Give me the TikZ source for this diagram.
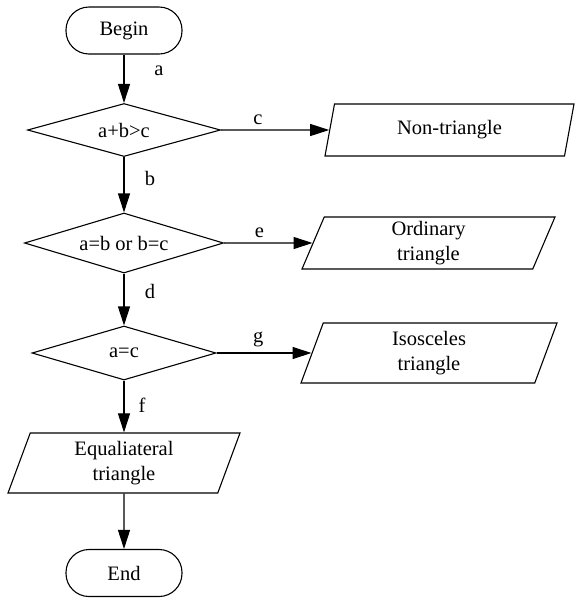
\documentclass[tikz,border=0pt]{standalone}
\usepackage{fontspec}
\setmainfont{Liberation Serif}
\usetikzlibrary{shapes.geometric,arrows.meta}
\tikzset{
  flow/.style={-{Triangle[length=19pt,width=12pt]}},
  terminal/.style={draw, rectangle, rounded corners=23pt, minimum width=116pt, minimum height=47pt, inner sep=0pt},
  decision/.style={draw, diamond, aspect=3.7, inner sep=0pt},
  io/.style={draw, trapezium, trapezium left angle=63, trapezium right angle=117, trapezium stretches body, inner sep=0pt, align=center},
  lbl/.style={inner sep=0pt},
}
\begin{document}
\begin{tikzpicture}[x=1pt,y=-1pt,line width=1.1pt,font=\fontsize{20.5}{25}\selectfont]
  \useasboundingbox (0,0) rectangle (574,598);
  \node[terminal] (begin) at (124,30.5) {Begin};
  \node[decision, minimum width=193pt, minimum height=53pt] (abc) at (124,130) {a+b>c};
  \node[decision, minimum width=199pt, minimum height=60pt] (aborbc) at (124,243) {a=b or b=c};
  \node[decision, minimum width=184pt, minimum height=54pt] (ac) at (124,353) {a=c};
  \node[io, minimum width=249pt, minimum height=52pt] (nontri) at (449.5,130) {Non-triangle};
  \node[io, minimum width=253pt, minimum height=52pt] (ordtri) at (428.5,243) {Ordinary\\triangle};
  \node[io, minimum width=256pt, minimum height=60pt] (isotri) at (429,353) {Isosceles\\triangle};
  \node[io, minimum width=232pt, minimum height=60pt] (equtri) at (124,463) {Equaliateral\\triangle};
  \node[terminal] (end) at (124,573) {End};
  % connectors
  \draw[flow] (begin) -- node[lbl, pos=.33, xshift=35pt] {a} (abc);
  \draw[flow] (abc) -- node[lbl, pos=.39, xshift=26pt] {b} (aborbc);
  \draw[flow] (aborbc) -- node[lbl, pos=.35, xshift=26pt] {d} (ac);
  \draw[flow] (ac) -- node[lbl, pos=.47, xshift=18pt] {f} (equtri);
  \draw[flow] (equtri) -- (end);
  \draw[flow] (abc) -- node[lbl, pos=.34, yshift=10pt] {c} (nontri);
  \draw[flow] (aborbc) -- node[lbl, pos=.4, yshift=10pt] {e} (ordtri);
  \draw[flow] (ac) -- node[lbl, pos=.44, yshift=13.5pt] {g} (isotri);
\end{tikzpicture}
\end{document}
